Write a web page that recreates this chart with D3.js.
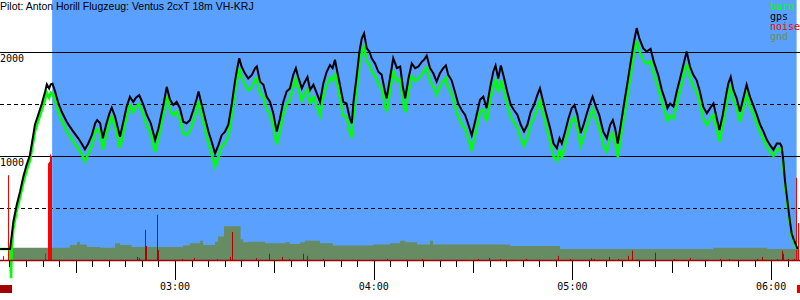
<!DOCTYPE html>
<html>
<head>
<meta charset="utf-8">
<script src="https://cdn.jsdelivr.net/npm/d3@7"></script>
<style>
  body { margin: 0; background: #fff; }
  svg { display: block; }
</style>
</head>
<body>
<div id="baro-chart"></div>
<script>
var title = "Pilot: Anton Horill Flugzeug: Ventus 2cxT 18m VH-KRJ";

// [minutes after 02:00, metres]
var gps = [[7.2,105],[10.2,105],[11.2,370],[12.2,530],[13.2,655],[14.2,800],[15.2,915],[16.2,1010],[17.2,1200],[17.7,1300],
  [18.7,1395],[19.8,1505],[20.8,1620],[21.3,1690],[22.0,1650],[22.5,1690],[23.0,1695],[23.8,1620],[24.8,1505],[25.8,1425],
  [27.3,1330],[28.3,1280],[29.3,1235],[30.8,1170],[31.8,1120],[32.8,1065],[33.8,1120],[34.9,1200],[35.9,1315],[36.5,1345],
  [37.4,1315],[38.2,1170],[39.2,1300],[40.2,1410],[40.9,1465],[41.9,1380],[43.4,1185],[44.4,1330],[45.4,1475],[46.4,1570],
  [47.4,1520],[48.2,1560],[49.2,1585],[50.3,1505],[51.5,1395],[52.7,1315],[54.0,1155],[55.0,1265],[56.5,1490],[57.5,1665],
  [58.5,1540],[59.5,1490],[60.5,1520],[61.5,1460],[62.5,1330],[63.5,1315],[64.5,1345],[65.5,1440],[66.6,1555],[67.1,1620],
  [68.1,1490],[69.1,1360],[70.1,1235],[71.1,1135],[72.1,1025],[73.1,1105],[74.1,1200],[75.1,1235],[76.1,1300],[77.1,1490],
  [78.1,1715],[78.8,1845],[79.4,1940],[80.1,1860],[81.1,1795],[82.1,1745],[83.2,1780],[84.2,1845],[84.7,1860],[85.7,1715],
  [86.7,1685],[87.7,1570],[88.7,1520],[89.7,1410],[90.7,1235],[91.7,1360],[92.7,1520],[93.7,1620],[94.7,1650],[95.7,1780],
  [96.5,1845],[97.2,1760],[98.3,1650],[99.0,1700],[100.0,1760],[100.8,1635],[101.8,1685],[102.8,1605],[103.8,1520],[104.8,1700],
  [105.8,1810],[106.8,1875],[107.6,1845],[108.3,1925],[109.0,1810],[109.8,1685],[110.8,1520],[111.8,1505],[112.8,1360],[113.4,1315],
  [113.9,1520],[114.9,1780],[115.7,2005],[116.4,2130],[117.1,2180],[117.9,2035],[118.7,2005],[119.4,1940],[120.4,1890],[121.4,1810],
  [122.4,1780],[123.4,1620],[123.9,1555],[124.9,1745],[125.9,1940],[127.0,1845],[128.0,1860],[128.8,1665],[129.5,1555],[130.5,1745],
  [131.5,1890],[132.5,1845],[133.5,1860],[134.5,1905],[135.2,1925],[136.0,1965],[137.0,1845],[138.0,1795],[139.0,1715],[140.0,1795],
  [141.0,1845],[141.8,1870],[142.5,1780],[143.5,1730],[144.5,1620],[145.5,1505],[146.6,1440],[147.6,1395],[148.6,1300],[149.6,1200],
  [150.6,1330],[152.1,1540],[153.1,1570],[154.1,1460],[155.1,1650],[156.1,1810],[156.8,1870],[157.6,1745],[158.4,1870],[159.4,1745],
  [160.3,1620],[161.4,1490],[162.4,1440],[163.4,1395],[164.4,1300],[165.4,1235],[166.4,1300],[167.4,1425],[168.4,1490],[169.4,1585],
  [170.2,1650],[171.2,1520],[172.2,1395],[173.3,1265],[174.3,1120],[175.3,1075],[176.1,1170],[176.8,1120],[177.8,1235],[178.8,1360],
  [179.8,1460],[180.6,1490],[181.5,1395],[182.5,1220],[183.5,1315],[184.5,1425],[185.5,1520],[186.1,1570],[187.1,1475],[188.1,1395],
  [189.3,1235],[190.4,1170],[191.4,1300],[192.2,1345],[192.9,1265],[193.7,1120],[194.6,1300],[195.6,1505],[196.6,1700],[197.6,1905],
  [198.6,2100],[199.4,2230],[200.2,2130],[201.4,2035],[202.4,2005],[203.6,2030],[204.6,1905],[205.9,1780],[207.0,1635],[208.0,1540],
  [208.7,1460],[209.5,1505],[210.5,1475],[211.5,1620],[212.5,1745],[213.5,1875],[214.5,2005],[215.5,1860],[216.5,1780],[217.5,1730],
  [218.5,1620],[219.5,1475],[220.6,1410],[221.6,1460],[222.6,1505],[223.6,1360],[224.4,1250],[225.4,1395],[226.4,1585],[227.1,1700],
  [227.8,1760],[228.6,1635],[229.6,1555],[230.6,1425],[231.6,1555],[232.6,1685],[233.6,1570],[234.6,1490],[235.7,1395],[236.7,1300],
  [237.7,1235],[238.7,1155],[239.7,1105],[240.7,1060],[241.7,1120],[242.7,1120],[243.2,1090],[243.7,945],[244.2,755],[244.7,625],
  [245.2,495],[245.7,370],[246.2,255],[246.9,190],[247.7,130],[248.0,105]];

var baro = [[7.2,105],[10.2,105],[10.5,-175],[10.7,105],[11.2,300],[12.2,470],[13.2,600],[14.2,740],[15.2,860],[16.2,955],[17.2,1130],
  [17.7,1230],[18.7,1335],[19.8,1440],[20.8,1545],[21.3,1610],[22.0,1560],[22.5,1610],[23.0,1600],[23.8,1540],[24.8,1420],
  [25.8,1340],[27.3,1240],[28.3,1190],[29.3,1140],[30.8,1070],[31.8,1020],[32.8,950],[33.8,1020],[34.9,1100],[35.9,1230],
  [36.5,1260],[37.4,1220],[38.2,1060],[39.2,1200],[40.2,1320],[40.9,1380],[41.9,1280],[43.4,1080],[44.4,1230],[45.4,1380],
  [46.4,1490],[47.4,1420],[48.2,1470],[49.2,1500],[50.3,1410],[51.5,1290],[52.7,1210],[54.0,1040],[55.0,1170],[56.5,1400],
  [57.5,1580],[58.5,1440],[59.5,1390],[60.5,1430],[61.5,1350],[62.5,1220],[63.5,1200],[64.5,1240],[65.5,1330],[66.6,1450],
  [67.1,1530],[68.1,1390],[69.1,1250],[70.1,1120],[71.1,1020],[72.1,900],[73.1,990],[74.1,1090],[75.1,1130],[76.1,1190],
  [77.1,1380],[78.1,1610],[78.8,1740],[79.4,1840],[80.1,1760],[81.1,1690],[82.1,1630],[83.2,1660],[84.2,1740],[84.7,1750],
  [85.7,1600],[86.7,1570],[87.7,1450],[88.7,1400],[89.7,1290],[90.7,1110],[91.7,1240],[92.7,1400],[93.7,1500],[94.7,1540],
  [95.7,1670],[96.5,1740],[97.2,1650],[98.3,1530],[99.0,1590],[100.0,1640],[100.8,1510],[101.8,1570],[102.8,1480],[103.8,1390],
  [104.8,1580],[105.8,1690],[106.8,1750],[107.6,1720],[108.3,1800],[109.0,1690],[109.8,1560],[110.8,1390],[111.8,1380],[112.8,1230],
  [113.4,1180],[113.9,1390],[114.9,1650],[115.7,1870],[116.4,2000],[117.1,2050],[117.9,1910],[118.7,1880],[119.4,1810],[120.4,1770],
  [121.4,1690],[122.4,1650],[123.4,1490],[123.9,1420],[124.9,1620],[125.9,1820],[127.0,1720],[128.0,1740],[128.8,1540],[129.5,1420],
  [130.5,1620],[131.5,1770],[132.5,1720],[133.5,1740],[134.5,1790],[135.2,1810],[136.0,1850],[137.0,1720],[138.0,1670],[139.0,1590],
  [140.0,1670],[141.0,1720],[141.8,1750],[142.5,1650],[143.5,1600],[144.5,1490],[145.5,1380],[146.6,1310],[147.6,1260],[148.6,1160],
  [149.6,1050],[150.6,1200],[152.1,1420],[153.1,1450],[154.1,1330],[155.1,1520],[156.1,1680],[156.8,1730],[157.6,1610],[158.4,1730],
  [159.4,1610],[160.3,1490],[161.4,1370],[162.4,1320],[163.4,1270],[164.4,1170],[165.4,1100],[166.4,1180],[167.4,1300],[168.4,1370],
  [169.4,1460],[170.2,1530],[171.2,1400],[172.2,1270],[173.3,1140],[174.3,1000],[175.3,950],[176.1,1050],[176.8,990],[177.8,1110],
  [178.8,1240],[179.8,1340],[180.6,1370],[181.5,1270],[182.5,1100],[183.5,1190],[184.5,1300],[185.5,1400],[186.1,1450],[187.1,1350],
  [188.1,1270],[189.3,1110],[190.4,1040],[191.4,1180],[192.2,1220],[192.9,1140],[193.7,990],[194.6,1180],[195.6,1390],[196.6,1580],
  [197.6,1780],[198.6,1980],[199.4,2110],[200.2,2010],[201.4,1920],[202.4,1890],[203.6,1910],[204.6,1790],[205.9,1660],[207.0,1520],
  [208.0,1420],[208.7,1340],[209.5,1390],[210.5,1360],[211.5,1500],[212.5,1630],[213.5,1760],[214.5,1890],[215.5,1750],[216.5,1670],
  [217.5,1620],[218.5,1510],[219.5,1360],[220.6,1300],[221.6,1350],[222.6,1400],[223.6,1250],[224.4,1140],[225.4,1290],[226.4,1480],
  [227.1,1600],[227.8,1660],[228.6,1540],[229.6,1460],[230.6,1330],[231.6,1460],[232.6,1590],[233.6,1480],[234.6,1400],[235.7,1310],
  [236.7,1220],[237.7,1160],[238.7,1090],[239.7,1040],[240.7,1000],[241.7,1060],[242.7,1070],[243.2,1050],[243.7,900],[244.2,710],
  [244.7,585],[245.2,460],[245.7,340],[246.2,230],[246.9,165],[247.7,110],[248.0,105]];

// ground elevation, held until the next entry
var gnd = [[10.2,118],[28.3,145],[30.4,175],[31.3,150],[33.4,125],[37.4,118],[41.9,160],[43.4,145],[46.9,125],[62.4,140],
  [64.5,160],[67.6,185],[68.5,145],[72.1,175],[73.0,225],[74.8,325],[79.8,200],[80.6,170],[82.0,175],[87.2,160],
  [93.2,170],[94.7,155],[97.8,170],[99.3,185],[103.8,160],[107.7,140],[119.8,150],[124.9,160],[128.0,185],[129.5,170],
  [133.1,150],[137.0,185],[137.9,150],[161.2,135],[176.3,105],[222.5,118],[238.8,105],[248.1,105]];

var noise = [[8.2,38],[9.7,815],[21.0,65],[21.9,930],[22.2,945],[22.5,1015],[22.8,1000],[48.6,30],[49.2,20],[51.0,290],
  [51.3,135],[54.7,435],[55.0,95],[62.2,10],[66.0,20],[72.8,10],[76.8,30],[77.3,270],[84.6,20],[88.5,60],
  [92.4,30],[94.5,10],[98.7,60],[100.0,40],[104.8,10],[124.1,10],[134.7,10],[151.6,10],[154.9,20],[158.4,10],
  [166.0,10],[175.7,40],[179.5,10],[185.8,20],[186.8,10],[191.1,30],[193.9,10],[196.9,40],[198.1,90],[205.0,70],
  [210.8,10],[215.8,20],[224.8,10],[227.4,10],[235.8,10],[237.4,30],[242.0,10],[243.5,90],[243.7,60],[245.2,10],
  [247.2,10],[247.8,790],[248.3,355]];

var flight = [22.9, 247.7];
var engineRuns = [[7.16, 10.8], [247.8, 248.8]];
var gridAlts = [500, 1000, 1500, 2000];
var labelAlts = [1000, 2000];
var legendNames = ["baro", "gps", "noise", "gnd"];

var width = 800, height = 300, bottom = 260;
var base = new Date(2020, 0, 1, 2, 0, 0);
function clock(m) { return new Date(base.getTime() + m * 60000); }

var x = d3.scaleTime()
  .domain([clock(7.16), clock(248.72)])
  .range([0, width]);
var y = d3.scaleLinear()
  .domain([0, 2500])
  .range([bottom, 0]);

var svg = d3.select("#baro-chart")
  .append("svg")
    .attr("width", width)
    .attr("height", height);

svg.append("rect")
  .attr("width", width).attr("height", height)
  .attr("fill", "#fff");

// in-flight period
svg.append("rect")
  .attr("x", x(clock(flight[0])))
  .attr("y", 0)
  .attr("width", x(clock(flight[1])) - x(clock(flight[0])))
  .attr("height", bottom)
  .attr("fill", "#5aa0ff");

svg.append("path")
  .datum(gnd)
  .attr("fill", "#678b63")
  .attr("d", d3.area()
    .curve(d3.curveStepAfter)
    .x(function(d) { return x(clock(d[0])); })
    .y0(bottom)
    .y1(function(d) { return y(d[1]); }));

svg.selectAll(".grid")
  .data(gridAlts)
  .enter().append("line")
    .attr("x1", 0).attr("x2", width)
    .attr("y1", function(d) { return Math.round(y(d)) + 0.5; })
    .attr("y2", function(d) { return Math.round(y(d)) + 0.5; })
    .attr("stroke", "#000")
    .attr("stroke-width", 1)
    .attr("stroke-dasharray", function(d) { return d % 1000 ? "4,3" : null; });

svg.selectAll(".alt-label")
  .data(labelAlts)
  .enter().append("text")
    .attr("x", 0)
    .attr("y", function(d) { return y(d) + 10; })
    .attr("font-family", "DejaVu Sans Mono, monospace")
    .attr("font-size", 10)
    .text(function(d) { return d; });

svg.selectAll(".noise")
  .data(noise)
  .enter().append("rect")
    .attr("x", function(d) { return Math.floor(x(clock(d[0]))); })
    .attr("y", function(d) { return y(d[1]); })
    .attr("width", 1)
    .attr("height", function(d) { return bottom - y(d[1]); })
    .attr("fill", function(d) {
      return (d[0] < flight[0] || d[0] > flight[1]) ? "#ff0000" : "#b00000";
    });

svg.append("path")
  .datum(baro)
  .attr("fill", "none")
  .attr("stroke", "#00ff00")
  .attr("stroke-width", 2.5)
  .attr("d", d3.line()
    .x(function(d) { return x(clock(d[0])); })
    .y(function(d) { return y(d[1]); }));

svg.append("path")
  .datum(gps)
  .attr("fill", "none")
  .attr("stroke", "#000")
  .attr("stroke-width", 2)
  .attr("d", d3.line()
    .x(function(d) { return x(clock(d[0])); })
    .y(function(d) { return y(d[1]); }));

// time axis
svg.append("line")
  .attr("x1", 0).attr("x2", width)
  .attr("y1", bottom + 0.5).attr("y2", bottom + 0.5)
  .attr("stroke", "#a00000")
  .attr("stroke-width", 1.5);

var ticks = x.ticks(d3.timeMinute.every(5));
svg.selectAll(".tick")
  .data(ticks)
  .enter().append("line")
    .attr("x1", function(d) { return Math.round(x(d)) + 0.5; })
    .attr("x2", function(d) { return Math.round(x(d)) + 0.5; })
    .attr("y1", bottom + 1)
    .attr("y2", function(d) {
      var m = d.getMinutes();
      return bottom + (m === 0 ? 20 : m === 30 ? 13 : 7);
    })
    .attr("stroke", "#000");

svg.selectAll(".time-label")
  .data(ticks.filter(function(d) { return d.getMinutes() === 0; }))
  .enter().append("text")
    .attr("x", function(d) { return x(d); })
    .attr("y", 290)
    .attr("text-anchor", "middle")
    .attr("font-family", "DejaVu Sans Mono, monospace")
    .attr("font-size", 10)
    .text(d3.timeFormat("%H:%M"));

svg.selectAll(".engine")
  .data(engineRuns)
  .enter().append("rect")
    .attr("x", function(d) { return x(clock(d[0])); })
    .attr("y", 285)
    .attr("width", function(d) { return x(clock(d[1])) - x(clock(d[0])); })
    .attr("height", 8)
    .attr("fill", function(d, i) { return i ? "#e00000" : "#a00000"; });

svg.append("text")
  .attr("x", 0)
  .attr("y", 10)
  .attr("font-family", "Liberation Sans, Arial, sans-serif")
  .attr("font-size", 10.5)
  .text(title);

var legendColors = ["#00ff00", "#000", "#ff0000", "#6b8c5c"];
svg.selectAll(".legend")
  .data(legendNames)
  .enter().append("text")
    .attr("x", 770)
    .attr("y", function(d, i) { return 10 + i * 10; })
    .attr("font-family", "DejaVu Sans Mono, monospace")
    .attr("font-size", 10)
    .attr("fill", function(d, i) { return legendColors[i]; })
    .text(function(d) { return d; });
</script>
</body>
</html>
